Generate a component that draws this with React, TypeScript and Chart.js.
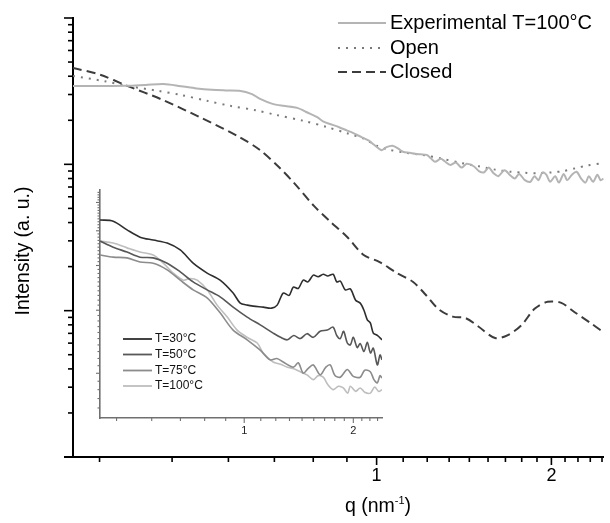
import React, { useEffect, useRef } from "react";
import { Chart, registerables } from "chart.js";

Chart.register(...registerables);

const FONT = "'Liberation Sans', Arial, Helvetica, sans-serif";

// ---------- main plot data (q in nm^-1, intensity in a. u.) ----------
const EXP_Q = [0.30, 0.33, 0.37, 0.40, 0.43, 0.46, 0.49, 0.52, 0.55, 0.58, 0.61, 0.63, 0.66, 0.69, 0.73, 0.76, 0.79, 0.81, 0.84, 0.86, 0.89, 0.91, 0.94, 0.97, 0.99, 1.02, 1.04, 1.065, 1.09, 1.11, 1.14, 1.165, 1.19, 1.22, 1.24, 1.26, 1.29, 1.31, 1.34, 1.37, 1.40, 1.43, 1.47, 1.50, 1.53, 1.56, 1.59, 1.62, 1.66, 1.70, 1.73, 1.76, 1.80, 1.84, 1.87, 1.90, 1.93, 1.96, 1.99, 2.03, 2.06, 2.10, 2.13, 2.17, 2.21, 2.25, 2.29, 2.32, 2.36, 2.40, 2.43, 2.46];
const EXP_I = [343, 343, 344, 349, 354, 342, 330, 323, 320, 318, 302, 280, 260, 251, 243, 226, 210, 196, 186, 180, 170, 164, 154, 145, 136, 125, 131, 134, 128, 122, 120, 118, 117, 116, 110, 104, 109, 105, 99, 103, 95, 101, 97, 90, 88, 95, 87, 83, 91, 84, 80, 86, 78, 76, 83, 78, 88, 85, 76, 83, 75, 86, 78, 85, 89, 80, 75, 83, 76, 85, 78, 80];

const OPEN_Q = [0.30, 0.34, 0.37, 0.42, 0.46, 0.51, 0.56, 0.62, 0.67, 0.75, 0.82, 0.89, 0.95, 1.0, 1.05, 1.12, 1.2, 1.3, 1.4, 1.5, 1.6, 1.7, 1.8, 1.9, 2.0, 2.1, 2.2, 2.3, 2.46];
const OPEN_I = [402, 370, 345, 318, 298, 272, 251, 234, 218, 198, 180, 163, 150, 134, 126, 120, 116, 109, 102, 97, 92, 89, 87.5, 87, 88, 90, 94, 98, 102];

const CLOSED_Q = [0.30, 0.334, 0.371, 0.426, 0.496, 0.578, 0.63, 0.68, 0.72, 0.78, 0.83, 0.889, 0.95, 1.012, 1.081, 1.156, 1.216, 1.28, 1.352, 1.423, 1.497, 1.6, 1.683, 1.778, 1.871, 1.97, 2.08, 2.19, 2.34, 2.46];
const CLOSED_I = [456, 410, 345, 278, 210, 155, 125, 95, 75, 52, 41, 32, 24, 21.5, 18.2, 15.7, 12.8, 10.2, 9.1, 8.9, 7.8, 6.5, 6.8, 8.0, 10.3, 11.5, 11.3, 9.8, 8.2, 7.1];

const MAIN_LABELS = ["Experimental T=100°C", "Open", "Closed"];

// main axis ticks
const MAIN_X_MAJOR = [1, 2];
const MAIN_X_LABELS = ["1", "2"];
const MAIN_X_MINOR = [0.3333, 0.4444, 0.5556, 0.6667, 0.7778, 0.8889, 1.1111, 1.2222, 1.3333, 1.4444, 1.5556, 1.6667, 1.7778, 1.8889, 2.1111, 2.2222, 2.3333, 2.4444];
const MAIN_Y_MAJOR = [10, 100, 1000];
const MAIN_Y_MINOR = [2, 3, 4, 5, 6, 7, 8, 9, 20, 30, 40, 50, 60, 70, 80, 90, 200, 300, 400, 500, 600, 700, 800, 900];

// ---------- inset data ----------
const T30_Q = [0.40, 0.435, 0.475, 0.516, 0.561, 0.613, 0.666, 0.723, 0.790, 0.858, 0.932, 0.975, 1.02, 1.059, 1.128, 1.19, 1.233, 1.281, 1.33, 1.366, 1.41, 1.455, 1.50, 1.551, 1.60, 1.652, 1.70, 1.760, 1.80, 1.841, 1.90, 1.963, 2.03, 2.09, 2.14, 2.186, 2.23, 2.271, 2.33, 2.4];
const T30_I = [5.36, 5.32, 5.03, 4.80, 4.71, 4.62, 4.42, 4.06, 3.81, 3.64, 3.35, 3.14, 3.10, 3.08, 3.06, 3.04, 3.10, 3.35, 3.30, 3.48, 3.45, 3.64, 3.60, 3.76, 3.72, 3.78, 3.74, 3.78, 3.60, 3.62, 3.42, 3.44, 3.20, 3.14, 3.00, 2.82, 2.76, 2.59, 2.55, 2.48];

const T50_Q = [0.40, 0.435, 0.475, 0.516, 0.561, 0.613, 0.666, 0.723, 0.790, 0.858, 0.932, 1.019, 1.107, 1.202, 1.26, 1.315, 1.37, 1.428, 1.49, 1.551, 1.62, 1.695, 1.760, 1.80, 1.841, 1.88, 1.925, 1.963, 2.0, 2.05, 2.09, 2.14, 2.186, 2.23, 2.271, 2.33, 2.37, 2.4];
const T50_I = [4.68, 4.50, 4.36, 4.22, 4.20, 4.06, 3.84, 3.60, 3.42, 3.27, 3.06, 2.87, 2.73, 2.59, 2.52, 2.48, 2.55, 2.50, 2.58, 2.52, 2.62, 2.64, 2.69, 2.55, 2.50, 2.62, 2.43, 2.40, 2.52, 2.36, 2.42, 2.30, 2.44, 2.28, 2.35, 2.11, 2.25, 2.18];

const T75_Q = [0.40, 0.435, 0.475, 0.516, 0.561, 0.613, 0.666, 0.723, 0.790, 0.858, 0.932, 1.019, 1.107, 1.180, 1.23, 1.281, 1.366, 1.41, 1.455, 1.50, 1.551, 1.621, 1.68, 1.728, 1.78, 1.841, 1.925, 2.0, 2.09, 2.15, 2.228, 2.28, 2.33, 2.37, 2.4];
const T75_I = [4.28, 4.22, 4.20, 4.09, 4.06, 3.89, 3.64, 3.42, 3.25, 2.95, 2.64, 2.48, 2.32, 2.18, 2.20, 2.15, 2.08, 2.14, 2.00, 2.06, 2.11, 1.98, 2.08, 2.11, 1.97, 1.95, 2.05, 1.96, 1.95, 2.04, 2.02, 1.92, 1.88, 1.97, 1.94];

const T100_Q = [0.40, 0.435, 0.475, 0.516, 0.561, 0.598, 0.637, 0.679, 0.71, 0.742, 0.790, 0.842, 0.898, 0.956, 1.019, 1.086, 1.128, 1.202, 1.26, 1.315, 1.37, 1.428, 1.49, 1.551, 1.60, 1.652, 1.70, 1.760, 1.82, 1.877, 1.93, 1.963, 2.03, 2.09, 2.15, 2.228, 2.29, 2.35, 2.4];
const T100_I = [4.68, 4.62, 4.48, 4.36, 4.28, 4.06, 3.81, 3.64, 3.68, 3.64, 3.42, 3.10, 2.87, 2.64, 2.52, 2.43, 2.28, 2.15, 2.12, 2.08, 2.06, 2.02, 1.98, 1.92, 1.97, 1.95, 1.86, 1.80, 1.84, 1.82, 1.76, 1.84, 1.78, 1.82, 1.77, 1.76, 1.83, 1.78, 1.80];

const INSET_LABELS = ["T=30°C", "T=50°C", "T=75°C", "T=100°C"];

const INSET_X_MAJOR = [1, 2];
const INSET_X_LABELS = ["1", "2"];
const INSET_X_MINOR = [0.4444, 0.5556, 0.6667, 0.7778, 0.8889, 1.1111, 1.2222, 1.3333, 1.4444, 1.5556, 1.6667, 1.7778, 1.8889, 2.1111, 2.2222, 2.3333];
const INSET_Y_MAJOR = [2, 3, 4, 5, 6];
const INSET_Y_MINOR = [1.6, 1.7, 1.8, 1.9, 2.1, 2.2, 2.3, 2.4, 2.5, 2.6, 2.7, 2.8, 2.9, 3.1, 3.2, 3.3, 3.4, 3.5, 3.6, 3.7, 3.8, 3.9, 4.1, 4.2, 4.3, 4.4, 4.5, 4.6, 4.7, 4.8, 4.9, 5.1, 5.2, 5.3, 5.4, 5.5, 5.6, 5.7, 5.8, 5.9, 6.1, 6.2, 6.3, 6.4];

const pts = (qs: number[], is: number[]) => qs.map((q, i) => ({ x: q, y: is[i] }));

// ---------- decoration plugin (ticks, legend, axis titles) ----------
const decor = {
  id: "decor",
  afterDraw(chart: any, _args: any, o: any) {
    const { ctx, chartArea } = chart;
    const xs = chart.scales.x;
    const ys = chart.scales.y;
    const { left, bottom } = chartArea;
    ctx.save();
    ctx.setLineDash([]);
    ctx.lineCap = "butt";
    const seg = (x1: number, y1: number, x2: number, y2: number) => {
      ctx.beginPath();
      ctx.moveTo(x1, y1);
      ctx.lineTo(x2, y2);
      ctx.stroke();
    };
    ctx.strokeStyle = o.tickColor;
    ctx.lineWidth = o.tickWidth;
    const xt = (vals: number[], len: number) =>
      vals.forEach((v) => {
        const p = xs.getPixelForValue(v);
        seg(p, bottom, p, bottom + len);
      });
    const yt = (vals: number[], len: number) =>
      vals.forEach((v) => {
        const p = ys.getPixelForValue(v);
        seg(left, p, left - len, p);
      });
    xt(o.xMajor, o.xMajorLen);
    xt(o.xMinor, o.xMinorLen);
    yt(o.yMajor, o.yMajorLen);
    yt(o.yMinor, o.yMinorLen);
    if (o.axisExtend) {
      ctx.strokeStyle = o.axisColor;
      ctx.lineWidth = o.axisWidth;
      seg(left - o.axisExtend, bottom, left, bottom);
    }
    if (o.legend) {
      const L = o.legend;
      chart.data.datasets.forEach((ds: any, i: number) => {
        const y = L.ys[i];
        ctx.strokeStyle = ds.borderColor;
        ctx.lineWidth = L.lineWidth || ds.borderWidth;
        ctx.setLineDash(ds.borderDash || []);
        seg(L.x1, y, L.x2, y);
        ctx.setLineDash([]);
        ctx.fillStyle = L.color;
        ctx.font = `${L.size}px ${FONT}`;
        ctx.textAlign = "left";
        ctx.textBaseline = "middle";
        ctx.fillText(ds.label, L.tx, y);
      });
    }
    if (o.titles) {
      o.titles.forEach((t: any) => {
        ctx.save();
        ctx.translate(t.x, t.y);
        if (t.rotate) ctx.rotate(-Math.PI / 2);
        ctx.fillStyle = t.color;
        ctx.textAlign = "left";
        ctx.textBaseline = t.baseline;
        let total = 0;
        t.parts.forEach((p: any) => {
          ctx.font = `${p.size}px ${FONT}`;
          total += ctx.measureText(p.text).width;
        });
        let cx = -total / 2;
        t.parts.forEach((p: any) => {
          ctx.font = `${p.size}px ${FONT}`;
          ctx.fillText(p.text, cx, p.dy);
          cx += ctx.measureText(p.text).width;
        });
        ctx.restore();
      });
    }
    ctx.restore();
  },
};

function mainConfig(): any {
  return {
    type: "line",
    data: {
      datasets: [
        { label: MAIN_LABELS[0], data: pts(EXP_Q, EXP_I), borderColor: "#b4b4b4", borderWidth: 2, pointRadius: 0, tension: 0.3, fill: false },
        { label: MAIN_LABELS[1], data: pts(OPEN_Q, OPEN_I), borderColor: "#7a7a7a", borderWidth: 2, borderDash: [2, 6], pointRadius: 0, tension: 0.3, fill: false },
        { label: MAIN_LABELS[2], data: pts(CLOSED_Q, CLOSED_I), borderColor: "#3c3c3c", borderWidth: 2, borderDash: [9, 5], pointRadius: 0, tension: 0.3, fill: false },
      ],
    },
    options: {
      responsive: false,
      animation: false,
      devicePixelRatio: 1,
      events: [],
      layout: { padding: { top: 18, right: 0, bottom: 0, left: 0 } },
      scales: {
        x: {
          type: "logarithmic",
          position: "bottom",
          min: 0.3,
          max: 2.46,
          afterBuildTicks: (s: any) => {
            s.ticks = [...MAIN_X_MINOR, ...MAIN_X_MAJOR].sort((a, b) => a - b).map((v) => ({ value: v }));
          },
          afterFit: (s: any) => { s.height = 66; },
          grid: { display: false, drawTicks: false },
          border: { display: true, color: "#000", width: 2 },
          ticks: {
            autoSkip: false,
            maxRotation: 0,
            minRotation: 0,
            padding: 8,
            color: "#000",
            font: { family: FONT, size: 18 },
            callback: (v: any) => {
              const k = MAIN_X_MAJOR.indexOf(Number(v));
              return k >= 0 ? MAIN_X_LABELS[k] : "";
            },
          },
        },
        y: {
          type: "logarithmic",
          position: "left",
          min: 1,
          max: 1000,
          afterFit: (s: any) => { s.width = 73; },
          grid: { display: false, drawTicks: false },
          border: { display: true, color: "#000", width: 2 },
          ticks: { display: false },
        },
      },
      plugins: {
        legend: { display: false },
        tooltip: { enabled: false },
        decor: {
          tickColor: "#000",
          tickWidth: 1.6,
          xMajor: MAIN_X_MAJOR, xMinor: MAIN_X_MINOR, xMajorLen: 8, xMinorLen: 5,
          yMajor: MAIN_Y_MAJOR, yMinor: MAIN_Y_MINOR, yMajorLen: 9, yMinorLen: 5,
          axisExtend: 9, axisColor: "#000", axisWidth: 2,
          legend: { x1: 338, x2: 386, tx: 390, ys: [23, 48, 72], size: 20, color: "#000" },
          titles: [
            { parts: [{ text: "Intensity (a. u.)", size: 19.5, dy: 0 }], x: 24, y: 251, rotate: true, color: "#000", baseline: "middle" },
            {
              parts: [
                { text: "q (nm", size: 19.5, dy: 0 },
                { text: "-1", size: 11, dy: -8 },
                { text: ")", size: 19.5, dy: 0 },
              ],
              x: 378, y: 512, rotate: false, color: "#000", baseline: "alphabetic",
            },
          ],
        },
      },
    },
    plugins: [decor],
  };
}

function insetConfig(): any {
  const mk = (label: string, qs: number[], is: number[], color: string) => ({
    label, data: pts(qs, is), borderColor: color, borderWidth: 1.6, pointRadius: 0, tension: 0.3, fill: false,
  });
  return {
    type: "line",
    data: {
      datasets: [
        mk(INSET_LABELS[0], T30_Q, T30_I, "#2e2e2e"),
        mk(INSET_LABELS[1], T50_Q, T50_I, "#575757"),
        mk(INSET_LABELS[2], T75_Q, T75_I, "#8c8c8c"),
        mk(INSET_LABELS[3], T100_Q, T100_I, "#bebebe"),
      ],
    },
    options: {
      responsive: false,
      animation: false,
      devicePixelRatio: 1,
      events: [],
      layout: { padding: { top: 10, right: 18, bottom: 0, left: 0 } },
      scales: {
        x: {
          type: "logarithmic",
          position: "bottom",
          min: 0.4,
          max: 2.4,
          afterBuildTicks: (s: any) => {
            s.ticks = [...INSET_X_MINOR, ...INSET_X_MAJOR].sort((a, b) => a - b).map((v) => ({ value: v }));
          },
          afterFit: (s: any) => { s.height = 32; },
          grid: { display: false, drawTicks: false },
          border: { display: true, color: "#707070", width: 1.6 },
          ticks: {
            autoSkip: false,
            maxRotation: 0,
            minRotation: 0,
            padding: 6,
            color: "#222",
            font: { family: FONT, size: 11 },
            callback: (v: any) => {
              const k = INSET_X_MAJOR.indexOf(Number(v));
              return k >= 0 ? INSET_X_LABELS[k] : "";
            },
          },
        },
        y: {
          type: "logarithmic",
          position: "left",
          min: 1.5,
          max: 6.5,
          afterFit: (s: any) => { s.width = 40; },
          grid: { display: false, drawTicks: false },
          border: { display: true, color: "#707070", width: 1.6 },
          ticks: { display: false },
        },
      },
      plugins: {
        legend: { display: false },
        tooltip: { enabled: false },
        decor: {
          tickColor: "#707070",
          tickWidth: 1.1,
          xMajor: INSET_X_MAJOR, xMinor: INSET_X_MINOR, xMajorLen: 5, xMinorLen: 3,
          yMajor: INSET_Y_MAJOR, yMinor: INSET_Y_MINOR, yMajorLen: 4, yMinorLen: 2.5,
          axisExtend: 0,
          legend: { x1: 63, x2: 92, tx: 95, ys: [159, 174.5, 190.5, 206], size: 12, color: "#111", lineWidth: 1.8 },
        },
      },
    },
    plugins: [decor],
  };
}

export default function App() {
  const mainRef = useRef<HTMLCanvasElement>(null);
  const insetRef = useRef<HTMLCanvasElement>(null);
  useEffect(() => {
    const main = new Chart(mainRef.current as HTMLCanvasElement, mainConfig());
    const inset = new Chart(insetRef.current as HTMLCanvasElement, insetConfig());
    return () => {
      main.destroy();
      inset.destroy();
    };
  }, []);
  return (
    <div style={{ position: "fixed", left: 0, top: 0, width: 610, height: 523, background: "#fff", overflow: "hidden" }}>
      <canvas ref={mainRef} width={610} height={523} style={{ position: "absolute", left: 0, top: 0, width: 610, height: 523 }} />
      <canvas ref={insetRef} width={340} height={270} style={{ position: "absolute", left: 60, top: 180, width: 340, height: 270 }} />
    </div>
  );
}
